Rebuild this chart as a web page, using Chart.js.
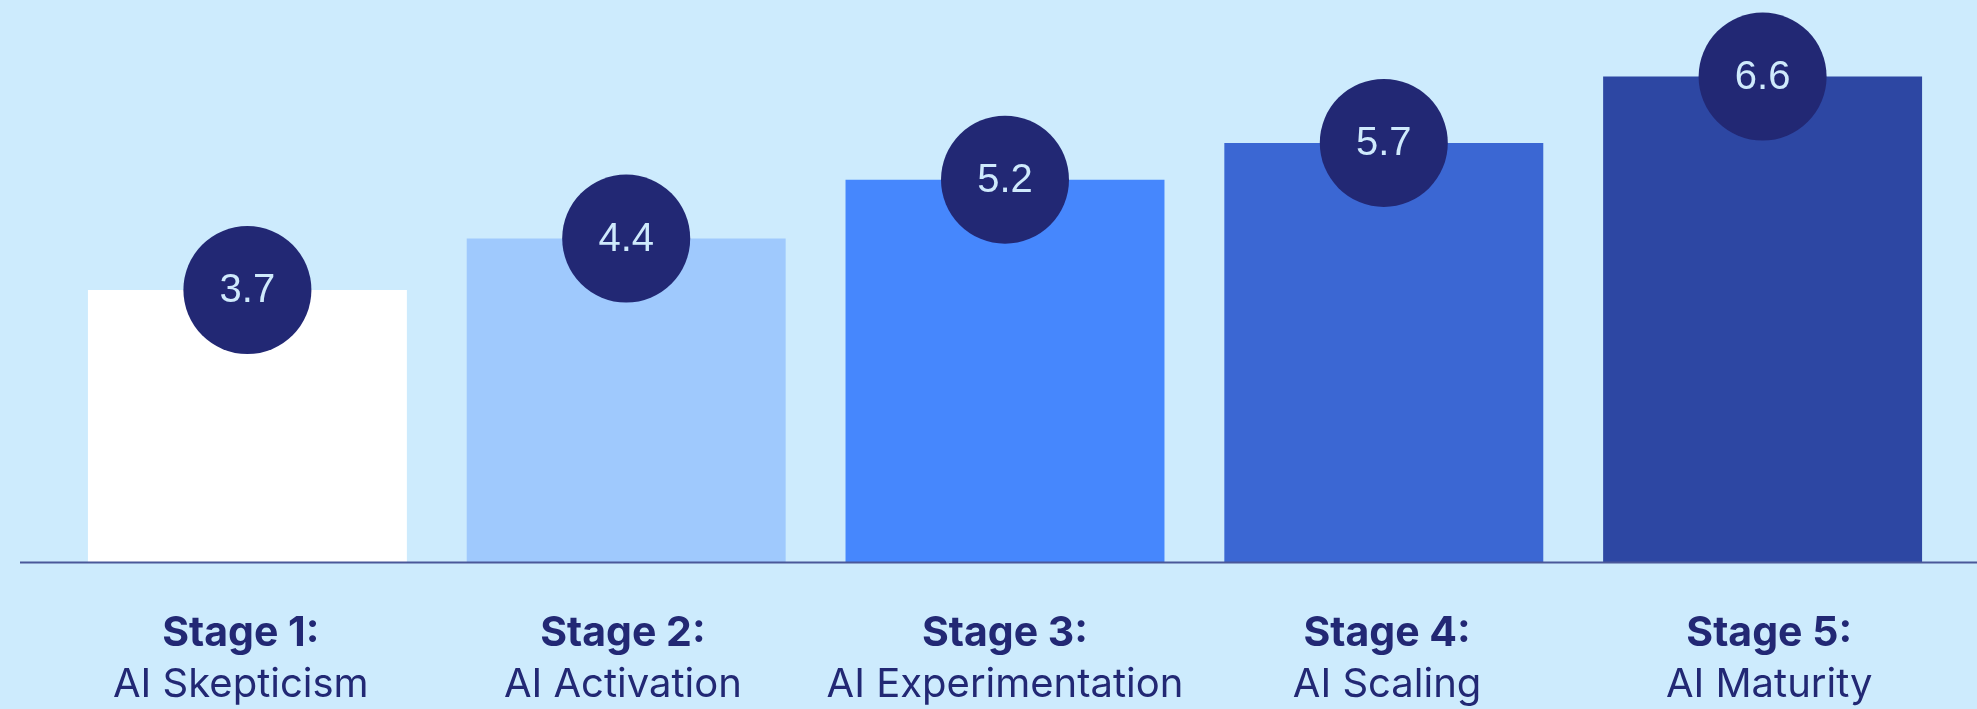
<!DOCTYPE html>
<html>
<head>
<meta charset="utf-8">
<script src="https://cdn.jsdelivr.net/npm/chart.js@4"></script>
<style>
    html, body { margin: 0; padding: 0; background: #cdebfd; }
    #wrap { width: 1977px; height: 709px; position: relative; }
</style>
</head>
<body>
<div id="wrap"><canvas id="chart"></canvas></div>
<script>
const stageNames = ['Stage 1:', 'Stage 2:', 'Stage 3:', 'Stage 4:', 'Stage 5:'];
const stageTitles = ['AI Skepticism', 'AI Activation', 'AI Experimentation', 'AI Scaling', 'AI Maturity'];
const scores = [3.7, 4.4, 5.2, 5.7, 6.6];
const barColors = ['#ffffff', '#9fc9fd', '#4687fd', '#3b67d3', '#2d47a3'];

const navy = '#222874';

// baseline across the whole width
const baselinePlugin = {
    id: 'baseline',
    afterDatasetsDraw(chart) {
        const ctx = chart.ctx;
        const y = chart.scales.y.getPixelForValue(0);
        ctx.save();
        ctx.strokeStyle = '#4a5899';
        ctx.lineWidth = 2;
        ctx.beginPath();
        ctx.moveTo(20, y);
        ctx.lineTo(chart.width, y);
        ctx.stroke();
        ctx.restore();
    }
};

// round value badges sitting on top of each bar
const badgePlugin = {
    id: 'badges',
    afterDatasetsDraw(chart) {
        const ctx = chart.ctx;
        const meta = chart.getDatasetMeta(0);
        ctx.save();
        meta.data.forEach((bar, i) => {
            ctx.fillStyle = navy;
            ctx.beginPath();
            ctx.arc(bar.x, bar.y, 64, 0, Math.PI * 2);
            ctx.fill();
            ctx.fillStyle = '#cfeafc';
            ctx.font = '40px "Liberation Sans", Arial, sans-serif';
            ctx.textAlign = 'center';
            ctx.textBaseline = 'middle';
            ctx.fillText(scores[i].toFixed(1), bar.x, bar.y + 1);
        });
        ctx.restore();
    }
};

// two-line category labels, first line bold
// (the labels sit on a slightly wider grid than the bars)
const labelPlugin = {
    id: 'stageLabels',
    afterDraw(chart) {
        const ctx = chart.ctx;
        const xs = chart.scales.x;
        ctx.save();
        ctx.fillStyle = navy;
        ctx.textAlign = 'center';
        ctx.textBaseline = 'alphabetic';
        stageNames.forEach((name, i) => {
            const x = xs.getPixelForValue(i) + (i - 2) * 3.3;
            ctx.font = 'bold 41px Inter, "Noto Sans", sans-serif';
            ctx.fillText(name, x, 646);
            ctx.font = '40px Inter, "Noto Sans", sans-serif';
            ctx.fillText(stageTitles[i], x, 697);
        });
        ctx.restore();
    }
};

new Chart(document.getElementById('chart').getContext('2d'), {
    type: 'bar',
    data: {
        labels: stageNames,
        datasets: [{
            data: scores,
            backgroundColor: barColors,
            borderWidth: 0,
            barPercentage: 0.842,
            categoryPercentage: 1
        }]
    },
    options: {
        responsive: true,
        maintainAspectRatio: false,
        animation: false,
        layout: { padding: { left: 58, right: 25, top: 3, bottom: 146.5 } },
        plugins: {
            legend: { display: false },
            tooltip: { enabled: false }
        },
        scales: {
            x: { display: false },
            y: { display: false, min: 0, max: 7.6 }
        }
    },
    plugins: [baselinePlugin, badgePlugin, labelPlugin]
});
</script>
</body>
</html>
